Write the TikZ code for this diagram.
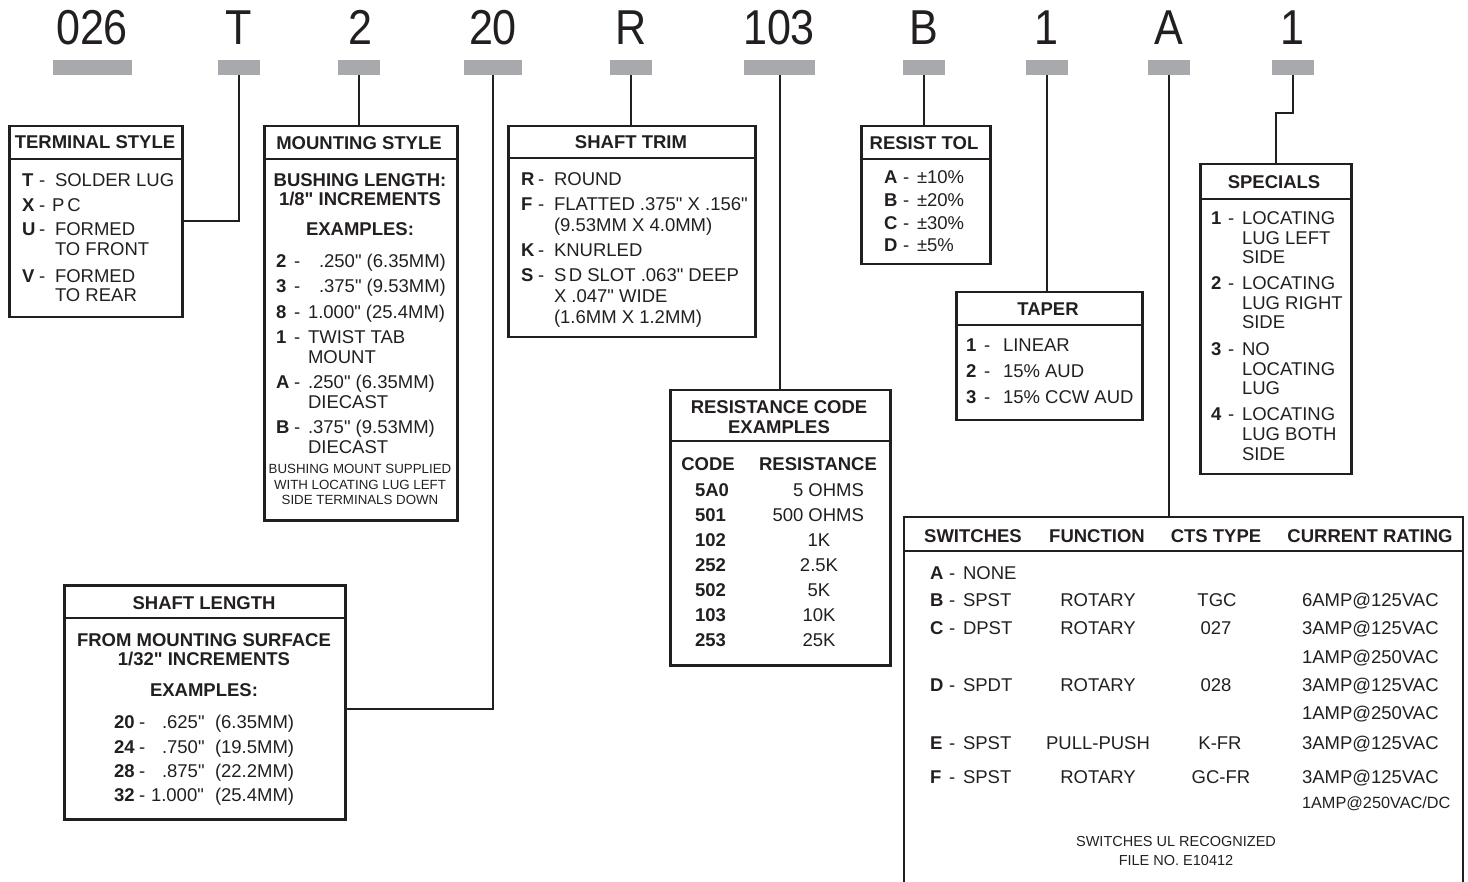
\documentclass[tikz,border=0pt]{standalone}
\usepackage{fontspec}
\newfontfamily\lsans{Liberation Sans}
\newfontfamily\hdrfont{Liberation Sans}[FakeStretch=0.88]
\newcommand\fs[1]{\fontsize{#1}{#1}\selectfont}
\definecolor{barc}{HTML}{A7A9AC}
\definecolor{ink}{HTML}{231F20}
% name, x key, x dash, x text, y, key, text
\newcommand\krow[7]{%
  \node[kb] (#1k) at (#2,#5) {#6};
  \node[tx] (#1d) at (#3,#5) {-};
  \node[tx] (#1t) at (#4,#5) {#7};}
\newcommand\tl[4]{\node[tx] (#1) at (#2,#3) {#4};}
\newcommand\ctl[4]{\node[ctx] (#1) at (#2,#3) {#4};}
\newcommand\cbl[4]{\node[cbx] (#1) at (#2,#3) {#4};}
\begin{document}
\begin{tikzpicture}[x=1pt,y=-1pt,
  tx/.style={inner sep=0pt, outer sep=0pt, anchor=west, text height=13.25pt, text depth=0pt, font=\lsans\fs{18.5}, text=ink},
  kb/.style={tx, font=\lsans\bfseries\fs{18.5}},
  ctx/.style={tx, anchor=center},
  cbx/.style={kb, anchor=center},
  note/.style={ctx, font=\lsans\fs{13.3}, text height=9.5pt},
  hd/.style={inner sep=0pt, text height=35pt, text depth=0pt, font=\hdrfont\fs{49}, text=ink},
  bar/.style={fill=barc, inner sep=0pt, minimum height=15pt},
  bx/.style={draw=ink, line width=2.5pt, inner sep=0pt, anchor=north west},
  wire/.style={draw=ink, line width=2pt},
  sepl/.style={draw=ink, line width=2.5pt}]
\useasboundingbox (0,0) rectangle (1468,882);

% ---------- header codes ----------
\node[hd] (h1) at (92,27.5) {026};
\node[hd] (h2) at (239,27.5) {T};
\node[hd] (h3) at (360,27.5) {2};
\node[hd] (h4) at (493,27.5) {20};
\node[hd] (h5) at (631,27.5) {R};
\node[hd] (h6) at (779,27.5) {103};
\node[hd] (h7) at (924,27.5) {B};
\node[hd] (h8) at (1046,27.5) {1};
\node[hd] (h9) at (1169,27.5) {A};
\node[hd] (h10) at (1292,27.5) {1};

\node[bar, minimum width=79pt] (b1) at (92.5,67.5) {};
\node[bar, minimum width=42pt] (b2) at (239,67.5) {};
\node[bar, minimum width=42pt] (b3) at (359,67.5) {};
\node[bar, minimum width=58pt] (b4) at (493,67.5) {};
\node[bar, minimum width=42pt] (b5) at (631,67.5) {};
\node[bar, minimum width=71pt] (b6) at (779.5,67.5) {};
\node[bar, minimum width=42pt] (b7) at (924,67.5) {};
\node[bar, minimum width=42pt] (b8) at (1047,67.5) {};
\node[bar, minimum width=42pt] (b9) at (1169,67.5) {};
\node[bar, minimum width=42pt] (b10) at (1293,67.5) {};

% ---------- boxes ----------
\node[bx, minimum width=173pt, minimum height=191pt] (ts) at (8,125) {};
\node[bx, minimum width=193pt, minimum height=394pt] (ms) at (263,125) {};
\node[bx, minimum width=247pt, minimum height=211pt] (st) at (507,125) {};
\node[bx, minimum width=129pt, minimum height=138pt] (rt) at (860,125) {};
\node[bx, minimum width=186pt, minimum height=128pt] (tp) at (955,291) {};
\node[bx, minimum width=151pt, minimum height=310pt] (sp) at (1199,163) {};
\node[bx, minimum width=220pt, minimum height=275pt] (rc) at (669,389) {};
\node[bx, minimum width=281pt, minimum height=234pt] (sl) at (63,584) {};
\draw[sepl] (904,885) -- (904,517) -- (1463,517) -- (1463,885);
\coordinate (swtop) at (1169,517);
\coordinate (slj) at (344,709);
\coordinate (tsj) at (181,221);

\draw[sepl] (ts.west |- 0,159) -- (ts.east |- 0,159);
\draw[sepl] (ms.west |- 0,159) -- (ms.east |- 0,159);
\draw[sepl] (st.west |- 0,158) -- (st.east |- 0,158);
\draw[sepl] (rt.west |- 0,159) -- (rt.east |- 0,159);
\draw[sepl] (tp.west |- 0,325) -- (tp.east |- 0,325);
\draw[sepl] (sp.west |- 0,199) -- (sp.east |- 0,199);
\draw[sepl] (rc.west |- 0,441) -- (rc.east |- 0,441);
\draw[sepl] (sl.west |- 0,618) -- (sl.east |- 0,618);
\draw[sepl] (904,551) -- (1463,551);

% ---------- connectors ----------
\draw[wire] (b2.south) |- (tsj);
\draw[wire] (b3.south) -- (b3.south |- ms.north);
\draw[wire] (b4.south) |- (slj);
\draw[wire] (b5.south) -- (b5.south |- st.north);
\draw[wire] (b6.south) -- (b6.south |- rc.north);
\draw[wire] (b7.south) -- (b7.south |- rt.north);
\draw[wire] (b8.south) -- (b8.south |- tp.north);
\draw[wire] (b9.south) -- (swtop);
\draw[wire] (b10.south) -- ++(0,38) -| (sp.north);

% ---------- terminal style ----------
\cbl{tsh}{95}{142}{TERMINAL STYLE}
\krow{tsa}{22}{39}{55}{180}{T}{SOLDER LUG}
\krow{tsb}{22}{39}{52}{205}{X}{P\hspace{3pt}C}
\krow{tsc}{22}{39}{55}{229}{U}{FORMED}
\tl{tsc2}{55}{249}{TO FRONT}
\krow{tsd}{22}{39}{55}{276}{V}{FORMED}
\tl{tsd2}{55}{295}{TO REAR}

% ---------- mounting style ----------
\cbl{msh}{359}{143}{MOUNTING STYLE}
\cbl{ms1}{360}{180}{BUSHING LENGTH:}
\cbl{ms2}{360}{199}{1/8" INCREMENTS}
\cbl{ms3}{360}{229}{EXAMPLES:}
\krow{msa}{276}{294}{319}{261}{2}{.250" (6.35MM)}
\krow{msb}{276}{294}{319}{286}{3}{.375" (9.53MM)}
\krow{msc}{276}{294}{308}{312}{8}{1.000" (25.4MM)}
\krow{msd}{276}{294}{308}{337}{1}{TWIST TAB}
\tl{msd2}{308}{357}{MOUNT}
\krow{mse}{276}{294}{308}{382}{A}{.250" (6.35MM)}
\tl{mse2}{308}{402}{DIECAST}
\krow{msf}{276}{294}{308}{427}{B}{.375" (9.53MM)}
\tl{msf2}{308}{447}{DIECAST}
\node[note] (msn1) at (360,469) {BUSHING MOUNT SUPPLIED};
\node[note] (msn2) at (360,485) {WITH LOCATING LUG LEFT};
\node[note] (msn3) at (360,500) {SIDE TERMINALS DOWN};

% ---------- shaft trim ----------
\cbl{sth}{631}{142}{SHAFT TRIM}
\krow{sta}{521}{538}{554}{179}{R}{ROUND}
\krow{stb}{521}{538}{554}{204}{F}{FLATTED .375" X .156"}
\tl{stb2}{554}{225}{(9.53MM X 4.0MM)}
\krow{stc}{521}{538}{554}{250}{K}{KNURLED}
\krow{std}{521}{538}{554}{275}{S}{S\hspace{2.5pt}D SLOT .063" DEEP}
\tl{std2}{554}{296}{X .047" WIDE}
\tl{std3}{554}{317}{(1.6MM X 1.2MM)}

% ---------- resist tol ----------
\cbl{rth}{924}{143}{RESIST TOL}
\krow{rta}{884}{903}{917}{177}{A}{±10\%}
\krow{rtb}{884}{903}{917}{200}{B}{±20\%}
\krow{rtc}{884}{903}{917}{223}{C}{±30\%}
\krow{rtd}{884}{903}{917}{245}{D}{±5\%}

% ---------- taper ----------
\cbl{tph}{1048}{309}{TAPER}
\krow{tpa}{966}{984}{1003}{345}{1}{LINEAR}
\krow{tpb}{966}{984}{1003}{371}{2}{15\% AUD}
\krow{tpc}{966}{984}{1003}{397}{3}{15\% CCW AUD}

% ---------- specials ----------
\cbl{sph}{1274}{182}{SPECIALS}
\krow{spa}{1211}{1228}{1242}{218}{1}{LOCATING}
\tl{spa2}{1242}{238}{LUG LEFT}
\tl{spa3}{1242}{257}{SIDE}
\krow{spb}{1211}{1228}{1242}{283}{2}{LOCATING}
\tl{spb2}{1242}{303}{LUG RIGHT}
\tl{spb3}{1242}{322}{SIDE}
\krow{spc}{1211}{1228}{1242}{349}{3}{NO}
\tl{spc2}{1242}{369}{LOCATING}
\tl{spc3}{1242}{388}{LUG}
\krow{spd}{1211}{1228}{1242}{414}{4}{LOCATING}
\tl{spd2}{1242}{434}{LUG BOTH}
\tl{spd3}{1242}{454}{SIDE}

% ---------- resistance code ----------
\cbl{rch1}{779}{407}{RESISTANCE CODE}
\cbl{rch2}{779}{427}{EXAMPLES}
\cbl{rcc}{708}{464}{CODE}
\cbl{rcr}{818}{464}{RESISTANCE}
\node[kb] (rk1) at (695,490) {5A0};
\node[kb] (rk2) at (695,515) {501};
\node[kb] (rk3) at (695,540) {102};
\node[kb] (rk4) at (695,565) {252};
\node[kb] (rk5) at (695,590) {502};
\node[kb] (rk6) at (695,615) {103};
\node[kb] (rk7) at (695,640) {253};
\node[tx, anchor=east] (rv1) at (864,490) {5 OHMS};
\node[tx, anchor=east] (rv2) at (864,515) {500 OHMS};
\ctl{rv3}{819}{540}{1K}
\ctl{rv4}{819}{565}{2.5K}
\ctl{rv5}{819}{590}{5K}
\ctl{rv6}{819}{615}{10K}
\ctl{rv7}{819}{640}{25K}

% ---------- shaft length ----------
\cbl{slh}{204}{603}{SHAFT LENGTH}
\cbl{sl1}{204}{640}{FROM MOUNTING SURFACE}
\cbl{sl2}{204}{659}{1/32" INCREMENTS}
\cbl{sl3}{204}{690}{EXAMPLES:}
\krow{sla}{114}{139}{162}{722}{20}{.625"}
\tl{sla2}{215}{722}{(6.35MM)}
\krow{slb}{114}{139}{162}{747}{24}{.750"}
\tl{slb2}{215}{747}{(19.5MM)}
\krow{slc}{114}{139}{162}{771}{28}{.875"}
\tl{slc2}{215}{771}{(22.2MM)}
\krow{sld}{114}{139}{151}{795}{32}{1.000"}
\tl{sld2}{215}{795}{(25.4MM)}

% ---------- switches ----------
\cbl{swh1}{973}{536}{SWITCHES}
\cbl{swh2}{1097}{536}{FUNCTION}
\cbl{swh3}{1216}{536}{CTS TYPE}
\cbl{swh4}{1370}{536}{CURRENT RATING}
\krow{swa}{930}{949}{963}{573}{A}{NONE}
\krow{swb}{930}{949}{963}{600}{B}{SPST}
\ctl{swb2}{1098}{600}{ROTARY}
\ctl{swb3}{1217}{600}{TGC}
\tl{swb4}{1302}{600}{6AMP@125VAC}
\krow{swc}{930}{949}{963}{628}{C}{DPST}
\ctl{swc2}{1098}{628}{ROTARY}
\ctl{swc3}{1216}{628}{027}
\tl{swc4}{1302}{628}{3AMP@125VAC}
\tl{swc5}{1302}{657}{1AMP@250VAC}
\krow{swd}{930}{949}{963}{685}{D}{SPDT}
\ctl{swd2}{1098}{685}{ROTARY}
\ctl{swd3}{1216}{685}{028}
\tl{swd4}{1302}{685}{3AMP@125VAC}
\tl{swd5}{1302}{713}{1AMP@250VAC}
\krow{swe}{930}{949}{963}{743}{E}{SPST}
\ctl{swe2}{1098}{743}{PULL-PUSH}
\ctl{swe3}{1220}{743}{K-FR}
\tl{swe4}{1302}{743}{3AMP@125VAC}
\krow{swf}{930}{949}{963}{777}{F}{SPST}
\ctl{swf2}{1098}{777}{ROTARY}
\ctl{swf3}{1221}{777}{GC-FR}
\tl{swf4}{1302}{777}{3AMP@125VAC}
\node[tx, font=\lsans\fs{16.3}, text height=11.7pt] (swf5) at (1302,803) {1AMP@250VAC/DC};
\node[note, font=\lsans\fs{14.5}, text height=10.4pt] (swn1) at (1176,841) {SWITCHES UL RECOGNIZED};
\node[note, font=\lsans\fs{14.5}, text height=10.4pt] (swn2) at (1176,860) {FILE NO. E10412};
\end{tikzpicture}
\end{document}
